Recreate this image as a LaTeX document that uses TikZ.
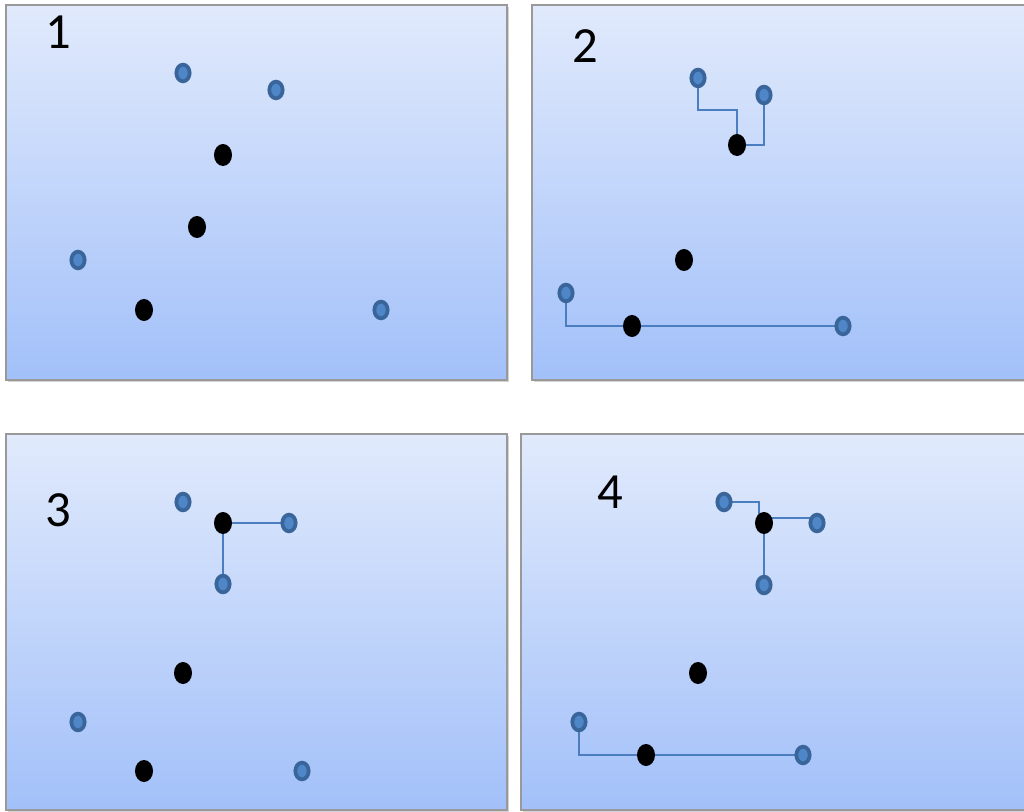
\documentclass[tikz,border=0pt]{standalone}
\usepackage{fontspec}
\setmainfont{Carlito}
\usetikzlibrary{shapes.geometric,backgrounds,shadows}
\definecolor{paneltop}{HTML}{E1EAFC}
\definecolor{panelbot}{HTML}{A2C0F9}
\definecolor{dotrim}{HTML}{39659A}
\definecolor{dotcore}{HTML}{4E86C8}
\definecolor{linkblue}{HTML}{4A7EC0}
\begin{document}
\begin{tikzpicture}[x=0.75pt,y=-0.75pt,
  panel/.style={draw=gray!80,line width=0.8pt,top color=paneltop,bottom color=panelbot,
    drop shadow={opacity=0.35,shadow xshift=1.2pt,shadow yshift=-1.5pt}},
  site/.style={ellipse,draw=dotrim,fill=dotcore,line width=2.8pt,inner sep=0pt,
    minimum width=10pt,minimum height=12.5pt},
  hub/.style={ellipse,fill=black,inner sep=0pt,minimum width=13.5pt,minimum height=16.5pt},
  link/.style={draw=linkblue,line width=1.3pt},
  num/.style={font=\fontsize{38}{40}\selectfont}]
\useasboundingbox (0,0) rectangle (1024,812);
\begin{scope}[on background layer]
\path[panel] (6,5) rectangle (507,380);
\path[panel] (532,5) rectangle (1030,380);
\path[panel] (6,434) rectangle (507,810);
\path[panel] (521,434) rectangle (1030,810);
\end{scope}
% panel 1
\node[num] (n1) at (58,32) {1};
\node[site] (a1) at (183,73) {};
\node[site] (a2) at (276,90) {};
\node[site] (a3) at (78,260) {};
\node[site] (a4) at (381,310) {};
\node[hub] (h1) at (223,155) {};
\node[hub] (h2) at (197,227) {};
\node[hub] (h3) at (144,310) {};
% panel 2
\node[num] (n2) at (585,46) {2};
\node[site] (b1) at (698,78) {};
\node[site] (b2) at (764,95) {};
\node[site] (b3) at (566,293) {};
\node[site] (b4) at (843,326) {};
\node[hub] (k1) at (737,145) {};
\node[hub] (k2) at (684,260) {};
\node[hub] (k3) at (632,326) {};
% panel 3
\node[num] (n3) at (58,510) {3};
\node[site] (c1) at (183,502) {};
\node[site] (c2) at (289,523) {};
\node[site] (c3) at (223,584) {};
\node[site] (c4) at (78,722) {};
\node[site] (c5) at (302,771) {};
\node[hub] (m1) at (223,523) {};
\node[hub] (m2) at (183,673) {};
\node[hub] (m3) at (144,771) {};
% panel 4
\node[num] (n4) at (610,492) {4};
\node[site] (d1) at (724,502) {};
\node[site] (d2) at (817,523) {};
\node[site] (d3) at (764,585) {};
\node[site] (d4) at (579,722) {};
\node[site] (d5) at (803,755) {};
\node[hub] (q1) at (764,523) {};
\node[hub] (q2) at (698,673) {};
\node[hub] (q3) at (646,755) {};
\begin{scope}[on background layer]
\draw[link] (b1.center) -- ++(0,32) -| (k1.center);
\draw[link] (b2.center) |- (k1.center);
\draw[link] (b3.center) |- (b4.center);
\draw[link] (m1.center) -- (c2.center);
\draw[link] (m1.center) -- (c3.center);
\draw[link] (d1.center) -| ([xshift=-3.75pt]q1.center);
\draw[link] ([yshift=3.75pt]q1.center) -- ([yshift=3.75pt]d2.center);
\draw[link] (q1.center) -- (d3.center);
\draw[link] (d4.center) |- (d5.center);
\end{scope}
\end{tikzpicture}
\end{document}
